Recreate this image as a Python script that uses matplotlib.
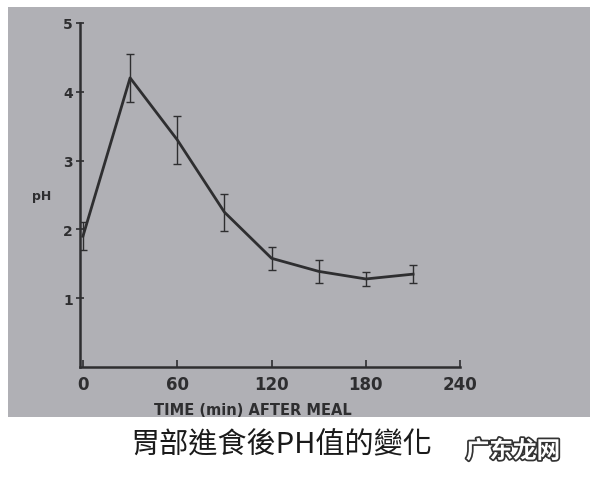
import matplotlib
matplotlib.use("Agg")
import matplotlib.pyplot as plt
import matplotlib.patheffects as pe
from matplotlib.patches import Rectangle

# pH of stomach after a meal
minutes = [0, 30, 60, 90, 120, 150, 180, 210]
ph = [1.9, 4.2, 3.3, 2.25, 1.58, 1.39, 1.28, 1.35]
ph_err = [0.2, 0.35, 0.35, 0.27, 0.17, 0.17, 0.1, 0.13]
xticks = [0, 60, 120, 180, 240]
yticks = [1, 2, 3, 4, 5]

title = "胃部進食後PH值的變化"
watermark = "广东龙网"

ink = "#2e2e30"

fig = plt.figure(figsize=(6, 4.85), dpi=100)
fig.patch.set_facecolor("white")

# gray scanned paper
fig.patches.append(Rectangle((8 / 600, 1 - 418 / 485), 582 / 600, 410 / 485,
                             transform=fig.transFigure, facecolor="#b0b0b5",
                             edgecolor="none", zorder=-10))

ax = fig.add_axes([0.133, 0.241, 0.634, 0.71])
ax.set_zorder(5)
ax.patch.set_alpha(0)
ax.errorbar(minutes, ph, yerr=ph_err, color=ink, lw=2.0, elinewidth=1.0,
            capsize=3, capthick=1.0)

ax.set_xlim(-2, 240)
ax.set_ylim(0, 5)
ax.set_xticks(xticks)
ax.set_yticks(yticks)
ax.spines["top"].set_visible(False)
ax.spines["right"].set_visible(False)
for s in ("left", "bottom"):
    ax.spines[s].set_color(ink)
    ax.spines[s].set_linewidth(1.8)
ax.tick_params(axis="x", direction="in", length=5, width=1.2, color=ink,
               labelsize=12, labelcolor=ink, pad=6)
ax.tick_params(axis="y", direction="inout", length=6, width=1.2, color=ink,
               labelsize=10, labelcolor=ink, pad=2)
for t in ax.get_xticklabels() + ax.get_yticklabels():
    t.set_fontweight("bold")

ax.set_xlabel("TIME (min) AFTER MEAL", fontsize=10.5, fontweight="bold",
              color=ink)
ax.xaxis.set_label_coords(0.455, -0.1)
ax.set_ylabel("pH", fontsize=9, fontweight="bold", color=ink, rotation=0)
ax.yaxis.set_label_coords(-0.1, 0.48)

fig.text(0.468, 0.082, title, fontsize=21, color="#1a1a1a",
         family=["Noto Sans CJK TC", "DejaVu Sans"], ha="center", va="center")
fig.text(0.855, 0.068, watermark, fontsize=17, color="white", fontweight="bold",
         family=["Noto Sans CJK SC", "DejaVu Sans"], ha="center", va="center",
         path_effects=[pe.withStroke(linewidth=2.5, foreground="#333333")])

fig.savefig("out.png", dpi=100)
